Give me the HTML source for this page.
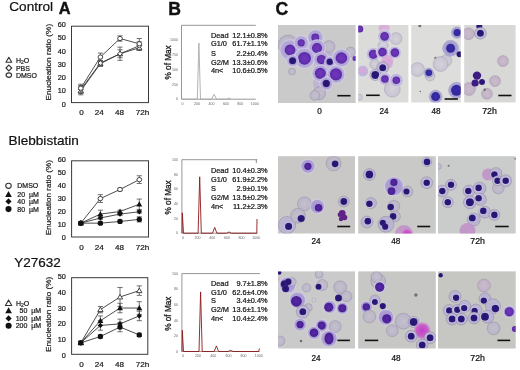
<!DOCTYPE html>
<html><head><meta charset="utf-8"><style>html,body{margin:0;padding:0;background:#fff;width:520px;height:370px;overflow:hidden}svg{display:block;will-change:transform}</style></head>
<body><svg width="520" height="370" viewBox="0 0 520 370" font-family="'Liberation Sans', sans-serif">
<defs>
<radialGradient id="gcy"><stop offset="0" stop-color="#a492d0"/><stop offset=".8" stop-color="#ad9ed4"/><stop offset="1" stop-color="#bab0da"/></radialGradient>
<radialGradient id="gcd"><stop offset="0" stop-color="#b4acd0"/><stop offset=".85" stop-color="#bcb6d2"/><stop offset="1" stop-color="#b0aac4"/></radialGradient>
<radialGradient id="gnv"><stop offset="0" stop-color="#7038bc"/><stop offset=".7" stop-color="#6430b0"/><stop offset="1" stop-color="#5628a0"/></radialGradient>
<radialGradient id="gnV"><stop offset="0" stop-color="#5828a8"/><stop offset=".7" stop-color="#4c2298"/><stop offset="1" stop-color="#42208a"/></radialGradient>
<radialGradient id="gcy0"><stop offset="0" stop-color="#ab9dd4"/><stop offset=".8" stop-color="#b3a7d8"/><stop offset="1" stop-color="#beb6dc"/></radialGradient>
<radialGradient id="gcy1"><stop offset="0" stop-color="#b8aed8"/><stop offset=".8" stop-color="#c0b8da"/><stop offset="1" stop-color="#ccc6de"/></radialGradient>
<radialGradient id="gnb"><stop offset="0" stop-color="#3a2eac"/><stop offset=".75" stop-color="#33289c"/><stop offset="1" stop-color="#3a3094"/></radialGradient>
<radialGradient id="gcb"><stop offset="0" stop-color="#9c96d0"/><stop offset=".8" stop-color="#a6a2d4"/><stop offset="1" stop-color="#b6b2d8"/></radialGradient>
<radialGradient id="gpl"><stop offset="0" stop-color="#d4d2da"/><stop offset=".85" stop-color="#cac6d4"/><stop offset="1" stop-color="#bcb8c8"/></radialGradient>
<radialGradient id="gnd"><stop offset="0" stop-color="#26146c"/><stop offset=".8" stop-color="#2c1878"/><stop offset="1" stop-color="#3a2888"/></radialGradient>
<radialGradient id="gpa"><stop offset="0" stop-color="#c4c0cc"/><stop offset=".85" stop-color="#bcb6c8"/><stop offset="1" stop-color="#aaa4bc"/></radialGradient>
<radialGradient id="gpk"><stop offset="0" stop-color="#cabccc"/><stop offset=".85" stop-color="#c2b2c6"/><stop offset="1" stop-color="#ae9eb8"/></radialGradient>
<radialGradient id="gmg"><stop offset="0" stop-color="#c040c8"/><stop offset=".7" stop-color="#c860c8"/><stop offset="1" stop-color="#d090d0" stop-opacity=".6"/></radialGradient>
<filter id="bl" x="-5%" y="-5%" width="110%" height="110%"><feGaussianBlur stdDeviation=".45"/></filter>
</defs>
<rect width="520" height="370" fill="#fff"/>
<text x="9.3" y="11.3" font-size="13.6" text-anchor="start" font-weight="normal" fill="#111" stroke="#111" stroke-width="0.22" >Control</text>
<text x="58.7" y="14.2" font-size="16.4" text-anchor="start" font-weight="bold" fill="#111" stroke="#111" stroke-width="0.4" >A</text>
<text x="8.6" y="145.4" font-size="13.6" text-anchor="start" font-weight="normal" fill="#111" stroke="#111" stroke-width="0.22" >Blebbistatin</text>
<text x="14.2" y="266.5" font-size="13.5" text-anchor="start" font-weight="normal" fill="#111" stroke="#111" stroke-width="0.22" >Y27632</text>
<text x="168.2" y="15.1" font-size="17.6" text-anchor="start" font-weight="bold" fill="#111" stroke="#111" stroke-width="0.4" >B</text>
<text x="275.6" y="15.1" font-size="17.6" text-anchor="start" font-weight="bold" fill="#111" stroke="#111" stroke-width="0.4" >C</text>
<rect x="71.5" y="26.2" width="77.0" height="76.39999999999999" fill="none" stroke="#3a3a3a" stroke-width="1"/>
<text x="65.9" y="106.6" font-size="7.3" text-anchor="end" font-weight="normal" fill="#1a1a1a" stroke="#1a1a1a" stroke-width="0.22" >0</text>
<text x="65.9" y="93.35" font-size="7.3" text-anchor="end" font-weight="normal" fill="#1a1a1a" stroke="#1a1a1a" stroke-width="0.22" >10</text>
<text x="65.9" y="80.1" font-size="7.3" text-anchor="end" font-weight="normal" fill="#1a1a1a" stroke="#1a1a1a" stroke-width="0.22" >20</text>
<text x="65.9" y="66.85" font-size="7.3" text-anchor="end" font-weight="normal" fill="#1a1a1a" stroke="#1a1a1a" stroke-width="0.22" >30</text>
<text x="65.9" y="53.6" font-size="7.3" text-anchor="end" font-weight="normal" fill="#1a1a1a" stroke="#1a1a1a" stroke-width="0.22" >40</text>
<text x="65.9" y="40.35" font-size="7.3" text-anchor="end" font-weight="normal" fill="#1a1a1a" stroke="#1a1a1a" stroke-width="0.22" >50</text>
<text x="65.9" y="27.1" font-size="7.3" text-anchor="end" font-weight="normal" fill="#1a1a1a" stroke="#1a1a1a" stroke-width="0.22" >60</text>
<text x="81.6" y="115.4" font-size="8.1" text-anchor="middle" font-weight="normal" fill="#1a1a1a" stroke="#1a1a1a" stroke-width="0.22" >0</text>
<text x="99.2" y="115.4" font-size="8.1" text-anchor="middle" font-weight="normal" fill="#1a1a1a" stroke="#1a1a1a" stroke-width="0.22" >24</text>
<text x="119.4" y="115.4" font-size="8.1" text-anchor="middle" font-weight="normal" fill="#1a1a1a" stroke="#1a1a1a" stroke-width="0.22" >48</text>
<text x="142.5" y="115.4" font-size="8.1" text-anchor="middle" font-weight="normal" fill="#1a1a1a" stroke="#1a1a1a" stroke-width="0.22" >72h</text>
<text x="0" y="0" font-size="7.7" text-anchor="middle" textLength="76.7" lengthAdjust="spacingAndGlyphs" fill="#1a1a1a" stroke="#1a1a1a" stroke-width="0.2" transform="translate(50.9,62.15) rotate(-90)">Enucleation ratio (%)</text>
<polyline points="80.8,90.85 100.4,63.69 120,53.75 139.3,47.79" fill="none" stroke="#3a3a3a" stroke-width="0.9"/>
<polyline points="80.8,89.52 100.4,63.02 120,53.75 139.3,45.80" fill="none" stroke="#3a3a3a" stroke-width="0.9"/>
<polyline points="80.8,88.20 100.4,57.06 120,38.51 139.3,43.81" fill="none" stroke="#3a3a3a" stroke-width="0.9"/>
<path d="M80.8,86.88V94.82M78.2,86.88h5.2M78.2,94.82h5.2" stroke="#444" stroke-width="0.75" fill="none"/>
<path d="M100.4,61.04V66.34M97.80000000000001,61.04h5.2M97.80000000000001,66.34h5.2" stroke="#444" stroke-width="0.75" fill="none"/>
<path d="M120,49.77V57.72M117.4,49.77h5.2M117.4,57.72h5.2" stroke="#444" stroke-width="0.75" fill="none"/>
<path d="M139.3,45.14V50.44M136.70000000000002,45.14h5.2M136.70000000000002,50.44h5.2" stroke="#444" stroke-width="0.75" fill="none"/>
<path d="M80.8,85.55V93.50M78.2,85.55h5.2M78.2,93.50h5.2" stroke="#444" stroke-width="0.75" fill="none"/>
<path d="M100.4,60.37V65.67M97.80000000000001,60.37h5.2M97.80000000000001,65.67h5.2" stroke="#444" stroke-width="0.75" fill="none"/>
<path d="M120,47.12V60.37M117.4,47.12h5.2M117.4,60.37h5.2" stroke="#444" stroke-width="0.75" fill="none"/>
<path d="M139.3,41.82V49.77M136.70000000000002,41.82h5.2M136.70000000000002,49.77h5.2" stroke="#444" stroke-width="0.75" fill="none"/>
<path d="M80.8,84.22V92.17M78.2,84.22h5.2M78.2,92.17h5.2" stroke="#444" stroke-width="0.75" fill="none"/>
<path d="M100.4,53.09V61.04M97.80000000000001,53.09h5.2M97.80000000000001,61.04h5.2" stroke="#444" stroke-width="0.75" fill="none"/>
<path d="M120,35.86V41.16M117.4,35.86h5.2M117.4,41.16h5.2" stroke="#444" stroke-width="0.75" fill="none"/>
<path d="M139.3,38.51V49.11M136.70000000000002,38.51h5.2M136.70000000000002,49.11h5.2" stroke="#444" stroke-width="0.75" fill="none"/>
<path d="M80.8,88.30L83.45,92.85H78.15Z" fill="#fff" stroke="#333" stroke-width="0.9" stroke-linejoin="round"/>
<path d="M100.4,61.14L103.05,65.68H97.75Z" fill="#fff" stroke="#333" stroke-width="0.9" stroke-linejoin="round"/>
<path d="M120,51.20L122.65,55.75H117.35Z" fill="#fff" stroke="#333" stroke-width="0.9" stroke-linejoin="round"/>
<path d="M139.3,45.24L141.95,49.78H136.65Z" fill="#fff" stroke="#333" stroke-width="0.9" stroke-linejoin="round"/>
<path d="M80.8,87.17L83.14999999999999,89.52L80.8,91.87L78.45,89.52Z" fill="#fff" stroke="#333" stroke-width="0.9"/>
<path d="M100.4,60.67L102.75,63.02L100.4,65.37L98.05000000000001,63.02Z" fill="#fff" stroke="#333" stroke-width="0.9"/>
<path d="M120,51.40L122.35,53.75L120,56.10L117.65,53.75Z" fill="#fff" stroke="#333" stroke-width="0.9"/>
<path d="M139.3,43.45L141.65,45.80L139.3,48.15L136.95000000000002,45.80Z" fill="#fff" stroke="#333" stroke-width="0.9"/>
<ellipse cx="80.8" cy="88.20" rx="2.35" ry="2.16" fill="#fff" stroke="#333" stroke-width="0.9"/>
<ellipse cx="100.4" cy="57.06" rx="2.35" ry="2.16" fill="#fff" stroke="#333" stroke-width="0.9"/>
<ellipse cx="120" cy="38.51" rx="2.35" ry="2.16" fill="#fff" stroke="#333" stroke-width="0.9"/>
<ellipse cx="139.3" cy="43.81" rx="2.35" ry="2.16" fill="#fff" stroke="#333" stroke-width="0.9"/>
<rect x="71.6" y="160.8" width="76.9" height="76.19999999999999" fill="none" stroke="#3a3a3a" stroke-width="1"/>
<text x="65.9" y="239.9" font-size="7.3" text-anchor="end" font-weight="normal" fill="#1a1a1a" stroke="#1a1a1a" stroke-width="0.22" >0</text>
<text x="65.9" y="226.95" font-size="7.3" text-anchor="end" font-weight="normal" fill="#1a1a1a" stroke="#1a1a1a" stroke-width="0.22" >10</text>
<text x="65.9" y="214.0" font-size="7.3" text-anchor="end" font-weight="normal" fill="#1a1a1a" stroke="#1a1a1a" stroke-width="0.22" >20</text>
<text x="65.9" y="201.05" font-size="7.3" text-anchor="end" font-weight="normal" fill="#1a1a1a" stroke="#1a1a1a" stroke-width="0.22" >30</text>
<text x="65.9" y="188.1" font-size="7.3" text-anchor="end" font-weight="normal" fill="#1a1a1a" stroke="#1a1a1a" stroke-width="0.22" >40</text>
<text x="65.9" y="175.15" font-size="7.3" text-anchor="end" font-weight="normal" fill="#1a1a1a" stroke="#1a1a1a" stroke-width="0.22" >50</text>
<text x="65.9" y="162.2" font-size="7.3" text-anchor="end" font-weight="normal" fill="#1a1a1a" stroke="#1a1a1a" stroke-width="0.22" >60</text>
<text x="81.6" y="250.4" font-size="8.1" text-anchor="middle" font-weight="normal" fill="#1a1a1a" stroke="#1a1a1a" stroke-width="0.22" >0</text>
<text x="99.2" y="250.4" font-size="8.1" text-anchor="middle" font-weight="normal" fill="#1a1a1a" stroke="#1a1a1a" stroke-width="0.22" >24</text>
<text x="119.4" y="250.4" font-size="8.1" text-anchor="middle" font-weight="normal" fill="#1a1a1a" stroke="#1a1a1a" stroke-width="0.22" >48</text>
<text x="142.5" y="250.4" font-size="8.1" text-anchor="middle" font-weight="normal" fill="#1a1a1a" stroke="#1a1a1a" stroke-width="0.22" >72h</text>
<text x="0" y="0" font-size="7.7" text-anchor="middle" textLength="75.1" lengthAdjust="spacingAndGlyphs" fill="#1a1a1a" stroke="#1a1a1a" stroke-width="0.2" transform="translate(50.9,197.7) rotate(-90)">Enucleation ratio (%)</text>
<polyline points="80.8,223.16 100.4,198.55 120,189.49 139.3,179.64" fill="none" stroke="#3a3a3a" stroke-width="0.9"/>
<polyline points="80.8,223.16 100.4,214.09 120,211.50 139.3,204.25" fill="none" stroke="#3a3a3a" stroke-width="0.9"/>
<polyline points="80.8,223.16 100.4,217.97 120,214.09 139.3,211.76" fill="none" stroke="#3a3a3a" stroke-width="0.9"/>
<polyline points="80.8,223.16 100.4,223.16 120,221.47 139.3,219.40" fill="none" stroke="#3a3a3a" stroke-width="0.9"/>
<path d="M80.8,221.86V224.45M78.2,221.86h5.2M78.2,224.45h5.2" stroke="#444" stroke-width="0.75" fill="none"/>
<path d="M100.4,194.66V202.44M97.80000000000001,194.66h5.2M97.80000000000001,202.44h5.2" stroke="#444" stroke-width="0.75" fill="none"/>
<path d="M120,188.19V190.78M117.4,188.19h5.2M117.4,190.78h5.2" stroke="#444" stroke-width="0.75" fill="none"/>
<path d="M139.3,175.76V183.53M136.70000000000002,175.76h5.2M136.70000000000002,183.53h5.2" stroke="#444" stroke-width="0.75" fill="none"/>
<path d="M80.8,221.86V224.45M78.2,221.86h5.2M78.2,224.45h5.2" stroke="#444" stroke-width="0.75" fill="none"/>
<path d="M100.4,210.21V217.97M97.80000000000001,210.21h5.2M97.80000000000001,217.97h5.2" stroke="#444" stroke-width="0.75" fill="none"/>
<path d="M120,210.21V212.79M117.4,210.21h5.2M117.4,212.79h5.2" stroke="#444" stroke-width="0.75" fill="none"/>
<path d="M139.3,199.07V209.43M136.70000000000002,199.07h5.2M136.70000000000002,209.43h5.2" stroke="#444" stroke-width="0.75" fill="none"/>
<path d="M80.8,221.86V224.45M78.2,221.86h5.2M78.2,224.45h5.2" stroke="#444" stroke-width="0.75" fill="none"/>
<path d="M100.4,216.68V219.27M97.80000000000001,216.68h5.2M97.80000000000001,219.27h5.2" stroke="#444" stroke-width="0.75" fill="none"/>
<path d="M120,212.79V215.38M117.4,212.79h5.2M117.4,215.38h5.2" stroke="#444" stroke-width="0.75" fill="none"/>
<path d="M139.3,210.46V213.05M136.70000000000002,210.46h5.2M136.70000000000002,213.05h5.2" stroke="#444" stroke-width="0.75" fill="none"/>
<path d="M80.8,221.86V224.45M78.2,221.86h5.2M78.2,224.45h5.2" stroke="#444" stroke-width="0.75" fill="none"/>
<path d="M100.4,221.86V224.45M97.80000000000001,221.86h5.2M97.80000000000001,224.45h5.2" stroke="#444" stroke-width="0.75" fill="none"/>
<path d="M120,220.18V222.77M117.4,220.18h5.2M117.4,222.77h5.2" stroke="#444" stroke-width="0.75" fill="none"/>
<path d="M139.3,216.81V221.99M136.70000000000002,216.81h5.2M136.70000000000002,221.99h5.2" stroke="#444" stroke-width="0.75" fill="none"/>
<ellipse cx="80.8" cy="223.16" rx="2.35" ry="2.16" fill="#fff" stroke="#333" stroke-width="0.9"/>
<ellipse cx="100.4" cy="198.55" rx="2.35" ry="2.16" fill="#fff" stroke="#333" stroke-width="0.9"/>
<ellipse cx="120" cy="189.49" rx="2.35" ry="2.16" fill="#fff" stroke="#333" stroke-width="0.9"/>
<ellipse cx="139.3" cy="179.64" rx="2.35" ry="2.16" fill="#fff" stroke="#333" stroke-width="0.9"/>
<path d="M80.8,220.21L83.75,225.39H77.85Z" fill="#111"/>
<path d="M100.4,211.14L103.35,216.32H97.45Z" fill="#111"/>
<path d="M120,208.55L122.95,213.73H117.05Z" fill="#111"/>
<path d="M139.3,201.30L142.25,206.48H136.35Z" fill="#111"/>
<path d="M80.8,220.50L83.44999999999999,223.16L80.8,225.81L78.15,223.16Z" fill="#111"/>
<path d="M100.4,215.32L103.05,217.97L100.4,220.62L97.75000000000001,217.97Z" fill="#111"/>
<path d="M120,211.44L122.64999999999999,214.09L120,216.74L117.35000000000001,214.09Z" fill="#111"/>
<path d="M139.3,209.11L141.95000000000002,211.76L139.3,214.41L136.65,211.76Z" fill="#111"/>
<circle cx="80.8" cy="223.16" r="2.65" fill="#111"/>
<circle cx="100.4" cy="223.16" r="2.65" fill="#111"/>
<circle cx="120" cy="221.47" r="2.65" fill="#111"/>
<circle cx="139.3" cy="219.40" r="2.65" fill="#111"/>
<rect x="71.6" y="277.7" width="76.20000000000002" height="76.60000000000002" fill="none" stroke="#3a3a3a" stroke-width="1"/>
<text x="65.9" y="358.0" font-size="7.3" text-anchor="end" font-weight="normal" fill="#1a1a1a" stroke="#1a1a1a" stroke-width="0.22" >0</text>
<text x="65.9" y="342.18" font-size="7.3" text-anchor="end" font-weight="normal" fill="#1a1a1a" stroke="#1a1a1a" stroke-width="0.22" >10</text>
<text x="65.9" y="326.36" font-size="7.3" text-anchor="end" font-weight="normal" fill="#1a1a1a" stroke="#1a1a1a" stroke-width="0.22" >20</text>
<text x="65.9" y="310.54" font-size="7.3" text-anchor="end" font-weight="normal" fill="#1a1a1a" stroke="#1a1a1a" stroke-width="0.22" >30</text>
<text x="65.9" y="294.72" font-size="7.3" text-anchor="end" font-weight="normal" fill="#1a1a1a" stroke="#1a1a1a" stroke-width="0.22" >40</text>
<text x="65.9" y="278.9" font-size="7.3" text-anchor="end" font-weight="normal" fill="#1a1a1a" stroke="#1a1a1a" stroke-width="0.22" >50</text>
<text x="81.6" y="366.8" font-size="8.1" text-anchor="middle" font-weight="normal" fill="#1a1a1a" stroke="#1a1a1a" stroke-width="0.22" >0</text>
<text x="99.2" y="366.8" font-size="8.1" text-anchor="middle" font-weight="normal" fill="#1a1a1a" stroke="#1a1a1a" stroke-width="0.22" >24</text>
<text x="119.4" y="366.8" font-size="8.1" text-anchor="middle" font-weight="normal" fill="#1a1a1a" stroke="#1a1a1a" stroke-width="0.22" >48</text>
<text x="142.5" y="366.8" font-size="8.1" text-anchor="middle" font-weight="normal" fill="#1a1a1a" stroke="#1a1a1a" stroke-width="0.22" >72h</text>
<text x="0" y="0" font-size="7.7" text-anchor="middle" textLength="75" lengthAdjust="spacingAndGlyphs" fill="#1a1a1a" stroke="#1a1a1a" stroke-width="0.2" transform="translate(50.9,314.4) rotate(-90)">Enucleation ratio (%)</text>
<polyline points="80.8,342.84 100.4,309.62 120,296.97 139.3,290.64" fill="none" stroke="#3a3a3a" stroke-width="0.9"/>
<polyline points="80.8,342.84 100.4,320.70 120,308.04 139.3,308.04" fill="none" stroke="#3a3a3a" stroke-width="0.9"/>
<polyline points="80.8,342.84 100.4,325.44 120,323.86 139.3,315.95" fill="none" stroke="#3a3a3a" stroke-width="0.9"/>
<polyline points="80.8,342.84 100.4,336.52 120,327.02 139.3,334.93" fill="none" stroke="#3a3a3a" stroke-width="0.9"/>
<path d="M80.8,341.26V344.43M78.2,341.26h5.2M78.2,344.43h5.2" stroke="#444" stroke-width="0.75" fill="none"/>
<path d="M100.4,306.46V312.79M97.80000000000001,306.46h5.2M97.80000000000001,312.79h5.2" stroke="#444" stroke-width="0.75" fill="none"/>
<path d="M120,287.47V306.46M117.4,287.47h5.2M117.4,306.46h5.2" stroke="#444" stroke-width="0.75" fill="none"/>
<path d="M139.3,285.89V295.38M136.70000000000002,285.89h5.2M136.70000000000002,295.38h5.2" stroke="#444" stroke-width="0.75" fill="none"/>
<path d="M80.8,341.26V344.43M78.2,341.26h5.2M78.2,344.43h5.2" stroke="#444" stroke-width="0.75" fill="none"/>
<path d="M100.4,315.95V325.44M97.80000000000001,315.95h5.2M97.80000000000001,325.44h5.2" stroke="#444" stroke-width="0.75" fill="none"/>
<path d="M120,303.29V312.79M117.4,303.29h5.2M117.4,312.79h5.2" stroke="#444" stroke-width="0.75" fill="none"/>
<path d="M139.3,301.71V314.37M136.70000000000002,301.71h5.2M136.70000000000002,314.37h5.2" stroke="#444" stroke-width="0.75" fill="none"/>
<path d="M80.8,341.26V344.43M78.2,341.26h5.2M78.2,344.43h5.2" stroke="#444" stroke-width="0.75" fill="none"/>
<path d="M100.4,320.70V330.19M97.80000000000001,320.70h5.2M97.80000000000001,330.19h5.2" stroke="#444" stroke-width="0.75" fill="none"/>
<path d="M120,319.11V328.61M117.4,319.11h5.2M117.4,328.61h5.2" stroke="#444" stroke-width="0.75" fill="none"/>
<path d="M139.3,311.20V320.70M136.70000000000002,311.20h5.2M136.70000000000002,320.70h5.2" stroke="#444" stroke-width="0.75" fill="none"/>
<path d="M80.8,341.26V344.43M78.2,341.26h5.2M78.2,344.43h5.2" stroke="#444" stroke-width="0.75" fill="none"/>
<path d="M100.4,334.93V338.10M97.80000000000001,334.93h5.2M97.80000000000001,338.10h5.2" stroke="#444" stroke-width="0.75" fill="none"/>
<path d="M120,322.28V331.77M117.4,322.28h5.2M117.4,331.77h5.2" stroke="#444" stroke-width="0.75" fill="none"/>
<path d="M139.3,333.35V336.52M136.70000000000002,333.35h5.2M136.70000000000002,336.52h5.2" stroke="#444" stroke-width="0.75" fill="none"/>
<path d="M80.8,340.29L83.45,344.84H78.15Z" fill="#fff" stroke="#333" stroke-width="0.9" stroke-linejoin="round"/>
<path d="M100.4,307.07L103.05,311.62H97.75Z" fill="#fff" stroke="#333" stroke-width="0.9" stroke-linejoin="round"/>
<path d="M120,294.42L122.65,298.96H117.35Z" fill="#fff" stroke="#333" stroke-width="0.9" stroke-linejoin="round"/>
<path d="M139.3,288.09L141.95,292.64H136.65Z" fill="#fff" stroke="#333" stroke-width="0.9" stroke-linejoin="round"/>
<path d="M80.8,339.89L83.75,345.08H77.85Z" fill="#111"/>
<path d="M100.4,317.75L103.35,322.93H97.45Z" fill="#111"/>
<path d="M120,305.09L122.95,310.27H117.05Z" fill="#111"/>
<path d="M139.3,305.09L142.25,310.27H136.35Z" fill="#111"/>
<path d="M80.8,340.19L83.44999999999999,342.84L80.8,345.49L78.15,342.84Z" fill="#111"/>
<path d="M100.4,322.79L103.05,325.44L100.4,328.09L97.75000000000001,325.44Z" fill="#111"/>
<path d="M120,321.21L122.64999999999999,323.86L120,326.51L117.35000000000001,323.86Z" fill="#111"/>
<path d="M139.3,313.30L141.95000000000002,315.95L139.3,318.60L136.65,315.95Z" fill="#111"/>
<circle cx="80.8" cy="342.84" r="2.65" fill="#111"/>
<circle cx="100.4" cy="336.52" r="2.65" fill="#111"/>
<circle cx="120" cy="327.02" r="2.65" fill="#111"/>
<circle cx="139.3" cy="334.93" r="2.65" fill="#111"/>
<path d="M8.85,57.30L11.75,62.31H5.95Z" fill="#fff" stroke="#333" stroke-width="1.1" stroke-linejoin="round"/>
<path d="M8.85,65.10L11.75,68.00L8.85,70.90L5.949999999999999,68.00Z" fill="#fff" stroke="#333" stroke-width="1.1"/>
<ellipse cx="8.85" cy="75.1" rx="2.75" ry="2.25" fill="#fff" stroke="#333" stroke-width="1.15"/>
<text x="15.9" y="62.6" font-size="7" text-anchor="start" font-weight="normal" fill="#1a1a1a" stroke="#1a1a1a" stroke-width="0.22" >H<tspan font-size="5" dy="1.5">2</tspan><tspan dy="-1.5">O</tspan></text>
<text x="15.9" y="70.5" font-size="7" text-anchor="start" font-weight="normal" fill="#1a1a1a" stroke="#1a1a1a" stroke-width="0.22" >PBS</text>
<text x="15.9" y="77.7" font-size="7" text-anchor="start" font-weight="normal" fill="#1a1a1a" stroke="#1a1a1a" stroke-width="0.22" >DMSO</text>
<ellipse cx="8.5" cy="185.80" rx="2.75" ry="2.53" fill="#fff" stroke="#333" stroke-width="1.1"/>
<text x="17.3" y="188.3" font-size="7" text-anchor="start" font-weight="normal" fill="#1a1a1a" stroke="#1a1a1a" stroke-width="0.22" >DMSO</text>
<path d="M8.5,190.95L11.85,196.91H5.15Z" fill="#111"/>
<text x="17.3" y="196.8" font-size="7" text-anchor="start" font-weight="normal" fill="#1a1a1a" stroke="#1a1a1a" stroke-width="0.22" >20&#160; µM</text>
<path d="M8.5,198.35L11.55,201.40L8.5,204.45L5.45,201.40Z" fill="#111"/>
<text x="17.3" y="203.9" font-size="7" text-anchor="start" font-weight="normal" fill="#1a1a1a" stroke="#1a1a1a" stroke-width="0.22" >40&#160; µM</text>
<circle cx="8.5" cy="209.10" r="3.05" fill="#111"/>
<text x="17.3" y="211.6" font-size="7" text-anchor="start" font-weight="normal" fill="#1a1a1a" stroke="#1a1a1a" stroke-width="0.22" >80&#160; µM</text>
<path d="M8.6,299.90L11.80,305.46H5.40Z" fill="#fff" stroke="#333" stroke-width="1.1" stroke-linejoin="round"/>
<text x="16" y="305.5" font-size="7" text-anchor="start" font-weight="normal" fill="#1a1a1a" stroke="#1a1a1a" stroke-width="0.22" >H<tspan font-size="5" dy="1.5">2</tspan><tspan dy="-1.5">O</tspan></text>
<text x="41.1" y="313.1" font-size="7" text-anchor="end" font-weight="normal" fill="#1a1a1a" stroke="#1a1a1a" stroke-width="0.22" >50&#160; µM</text>
<text x="41.1" y="320.9" font-size="7" text-anchor="end" font-weight="normal" fill="#1a1a1a" stroke="#1a1a1a" stroke-width="0.22" >100&#160; µM</text>
<text x="41.1" y="328.2" font-size="7" text-anchor="end" font-weight="normal" fill="#1a1a1a" stroke="#1a1a1a" stroke-width="0.22" >200&#160; µM</text>
<path d="M8.6,307.25L11.95,313.21H5.25Z" fill="#111"/>
<path d="M8.6,315.35L11.65,318.40L8.6,321.45L5.55,318.40Z" fill="#111"/>
<circle cx="8.6" cy="325.70" r="3.05" fill="#111"/>
<path d="M181.5,99.2V25.3H255.8M181.5,99.2H255.8" fill="none" stroke="#6a6a6a" stroke-width="0.7"/>
<text x="0" y="0" font-size="8.6" text-anchor="middle" textLength="34.2" lengthAdjust="spacingAndGlyphs" fill="#1a1a1a" stroke="#1a1a1a" stroke-width="0.3" transform="translate(170.9,62.4) rotate(-90)">% of Max</text>
<path d="M181.5,99.2 L197.3,99.2 L198.9,43.1 L200.5,99.2 L211.5,99.2 L214,94.2 L216.5,99.2 L227,99.2 L229,98 L231,99.2" fill="none" stroke="#aaa" stroke-width="0.9" stroke-linejoin="round"/>
<text x="178" y="100.4" font-size="3.6" text-anchor="end" font-weight="normal" fill="#666" >0</text>
<text x="178" y="85.5" font-size="3.6" text-anchor="end" font-weight="normal" fill="#666" >250</text>
<text x="178" y="70.6" font-size="3.6" text-anchor="end" font-weight="normal" fill="#666" >500</text>
<text x="178" y="55.7" font-size="3.6" text-anchor="end" font-weight="normal" fill="#666" >750</text>
<text x="178" y="40.8" font-size="3.6" text-anchor="end" font-weight="normal" fill="#666" >1000</text>
<text x="182.5" y="104.7" font-size="3.6" text-anchor="middle" font-weight="normal" fill="#666" >0</text>
<text x="196.96" y="104.7" font-size="3.6" text-anchor="middle" font-weight="normal" fill="#666" >200</text>
<text x="211.42" y="104.7" font-size="3.6" text-anchor="middle" font-weight="normal" fill="#666" >400</text>
<text x="225.88" y="104.7" font-size="3.6" text-anchor="middle" font-weight="normal" fill="#666" >600</text>
<text x="240.34" y="104.7" font-size="3.6" text-anchor="middle" font-weight="normal" fill="#666" >800</text>
<text x="254.8" y="104.7" font-size="3.6" text-anchor="middle" font-weight="normal" fill="#666" >1000</text>
<rect x="208" y="29.6" width="60" height="46.300000000000004" fill="#fff"/>
<text transform="translate(210.9,37.6) scale(0.925,1)" font-size="8.0" text-anchor="start" font-weight="normal" fill="#111" stroke="#111" stroke-width="0.22" >Dead</text>
<text transform="translate(267.6,37.6) scale(0.925,1)" font-size="8.0" text-anchor="end" font-weight="normal" fill="#111" stroke="#111" stroke-width="0.22" >12.1±0.8%</text>
<text transform="translate(210.9,46.3) scale(0.925,1)" font-size="8.0" text-anchor="start" font-weight="normal" fill="#111" stroke="#111" stroke-width="0.22" >G1/0</text>
<text transform="translate(267.6,46.3) scale(0.925,1)" font-size="8.0" text-anchor="end" font-weight="normal" fill="#111" stroke="#111" stroke-width="0.22" >61.7±1.1%</text>
<text transform="translate(210.9,55.8) scale(0.925,1)" font-size="8.0" text-anchor="start" font-weight="normal" fill="#111" stroke="#111" stroke-width="0.22" >S</text>
<text transform="translate(267.6,55.8) scale(0.925,1)" font-size="8.0" text-anchor="end" font-weight="normal" fill="#111" stroke="#111" stroke-width="0.22" >2.2±0.4%</text>
<text transform="translate(210.9,64.6) scale(0.925,1)" font-size="8.0" text-anchor="start" font-weight="normal" fill="#111" stroke="#111" stroke-width="0.22" >G2/M</text>
<text transform="translate(267.6,64.6) scale(0.925,1)" font-size="8.0" text-anchor="end" font-weight="normal" fill="#111" stroke="#111" stroke-width="0.22" >13.3±0.6%</text>
<text transform="translate(210.9,73.4) scale(0.925,1)" font-size="8.0" text-anchor="start" font-weight="normal" fill="#111" stroke="#111" stroke-width="0.22" >4n&lt;</text>
<text transform="translate(267.6,73.4) scale(0.925,1)" font-size="8.0" text-anchor="end" font-weight="normal" fill="#111" stroke="#111" stroke-width="0.22" >10.6±0.5%</text>
<path d="M181.9,233.2V159.7H257.3M181.9,233.2H257.3" fill="none" stroke="#6a6a6a" stroke-width="0.7"/>
<text x="0" y="0" font-size="8.6" text-anchor="middle" textLength="34.2" lengthAdjust="spacingAndGlyphs" fill="#1a1a1a" stroke="#1a1a1a" stroke-width="0.3" transform="translate(170.9,197.4) rotate(-90)">% of Max</text>
<path d="M182,233.2 L182.3,212.8 L183.5,233.2 M183.5,233.2 L198.1,233.2 L199.7,176.8 L201.29999999999998,233.2 L212.5,233.2 L214.7,227.4 L216.89999999999998,233.2 L226.5,233.2 L229,232 L231.5,233.2 L256.8,233.2 L257,219" fill="none" stroke="#8b1a1a" stroke-width="0.9" stroke-linejoin="round"/>
<path d="M256.3,159.7V163" stroke="#555" stroke-width="0.7"/>
<text x="178" y="234.4" font-size="3.6" text-anchor="end" font-weight="normal" fill="#666" >0</text>
<text x="178" y="219.7" font-size="3.6" text-anchor="end" font-weight="normal" fill="#666" >20</text>
<text x="178" y="205.0" font-size="3.6" text-anchor="end" font-weight="normal" fill="#666" >40</text>
<text x="178" y="190.3" font-size="3.6" text-anchor="end" font-weight="normal" fill="#666" >60</text>
<text x="178" y="175.6" font-size="3.6" text-anchor="end" font-weight="normal" fill="#666" >80</text>
<text x="178" y="160.9" font-size="3.6" text-anchor="end" font-weight="normal" fill="#666" >100</text>
<text x="182.9" y="238.7" font-size="3.6" text-anchor="middle" font-weight="normal" fill="#666" >0</text>
<text x="197.58" y="238.7" font-size="3.6" text-anchor="middle" font-weight="normal" fill="#666" >200</text>
<text x="212.26" y="238.7" font-size="3.6" text-anchor="middle" font-weight="normal" fill="#666" >400</text>
<text x="226.94" y="238.7" font-size="3.6" text-anchor="middle" font-weight="normal" fill="#666" >600</text>
<text x="241.62" y="238.7" font-size="3.6" text-anchor="middle" font-weight="normal" fill="#666" >800</text>
<text x="256.3" y="238.7" font-size="3.6" text-anchor="middle" font-weight="normal" fill="#666" >1000</text>
<rect x="208" y="165.4" width="60" height="46.400000000000006" fill="#fff"/>
<text transform="translate(210.9,173.4) scale(0.925,1)" font-size="8.0" text-anchor="start" font-weight="normal" fill="#111" stroke="#111" stroke-width="0.22" >Dead</text>
<text transform="translate(267.6,173.4) scale(0.925,1)" font-size="8.0" text-anchor="end" font-weight="normal" fill="#111" stroke="#111" stroke-width="0.22" >10.4±0.3%</text>
<text transform="translate(210.9,182.3) scale(0.925,1)" font-size="8.0" text-anchor="start" font-weight="normal" fill="#111" stroke="#111" stroke-width="0.22" >G1/0</text>
<text transform="translate(267.6,182.3) scale(0.925,1)" font-size="8.0" text-anchor="end" font-weight="normal" fill="#111" stroke="#111" stroke-width="0.22" >61.9±2.2%</text>
<text transform="translate(210.9,191.4) scale(0.925,1)" font-size="8.0" text-anchor="start" font-weight="normal" fill="#111" stroke="#111" stroke-width="0.22" >S</text>
<text transform="translate(267.6,191.4) scale(0.925,1)" font-size="8.0" text-anchor="end" font-weight="normal" fill="#111" stroke="#111" stroke-width="0.22" >2.9±0.1%</text>
<text transform="translate(210.9,200.4) scale(0.925,1)" font-size="8.0" text-anchor="start" font-weight="normal" fill="#111" stroke="#111" stroke-width="0.22" >G2/M</text>
<text transform="translate(267.6,200.4) scale(0.925,1)" font-size="8.0" text-anchor="end" font-weight="normal" fill="#111" stroke="#111" stroke-width="0.22" >13.5±0.2%</text>
<text transform="translate(210.9,209.3) scale(0.925,1)" font-size="8.0" text-anchor="start" font-weight="normal" fill="#111" stroke="#111" stroke-width="0.22" >4n&lt;</text>
<text transform="translate(267.6,209.3) scale(0.925,1)" font-size="8.0" text-anchor="end" font-weight="normal" fill="#111" stroke="#111" stroke-width="0.22" >11.2±2.3%</text>
<path d="M181.9,351.5V273.6H260M181.9,351.5H259.8" fill="none" stroke="#6a6a6a" stroke-width="0.7"/>
<text x="0" y="0" font-size="8.6" text-anchor="middle" textLength="34.2" lengthAdjust="spacingAndGlyphs" fill="#1a1a1a" stroke="#1a1a1a" stroke-width="0.3" transform="translate(170.9,313.7) rotate(-90)">% of Max</text>
<path d="M182,351.5 L182.3,330.3 L183.5,351.5 M183.5,351.5 L199.0,351.5 L200.6,291.9 L202.2,351.5 L214.20000000000002,351.5 L216.4,345.9 L218.6,351.5 L228.1,351.5 L230.6,350.3 L233.1,351.5 L258.5,351.5 L259.6,348.5" fill="none" stroke="#8b1a1a" stroke-width="0.9" stroke-linejoin="round"/>
<text x="178" y="352.7" font-size="3.6" text-anchor="end" font-weight="normal" fill="#666" >0</text>
<text x="178" y="337.12" font-size="3.6" text-anchor="end" font-weight="normal" fill="#666" >20</text>
<text x="178" y="321.54" font-size="3.6" text-anchor="end" font-weight="normal" fill="#666" >40</text>
<text x="178" y="305.96" font-size="3.6" text-anchor="end" font-weight="normal" fill="#666" >60</text>
<text x="178" y="290.38" font-size="3.6" text-anchor="end" font-weight="normal" fill="#666" >80</text>
<text x="178" y="274.8" font-size="3.6" text-anchor="end" font-weight="normal" fill="#666" >100</text>
<text x="182.9" y="357.0" font-size="3.6" text-anchor="middle" font-weight="normal" fill="#666" >0</text>
<text x="198.08" y="357.0" font-size="3.6" text-anchor="middle" font-weight="normal" fill="#666" >200</text>
<text x="213.26" y="357.0" font-size="3.6" text-anchor="middle" font-weight="normal" fill="#666" >400</text>
<text x="228.44" y="357.0" font-size="3.6" text-anchor="middle" font-weight="normal" fill="#666" >600</text>
<text x="243.62" y="357.0" font-size="3.6" text-anchor="middle" font-weight="normal" fill="#666" >800</text>
<text x="258.8" y="357.0" font-size="3.6" text-anchor="middle" font-weight="normal" fill="#666" >1000</text>
<rect x="208" y="277.6" width="60" height="46.19999999999999" fill="#fff"/>
<text transform="translate(210.9,285.6) scale(0.925,1)" font-size="8.0" text-anchor="start" font-weight="normal" fill="#111" stroke="#111" stroke-width="0.22" >Dead</text>
<text transform="translate(267.6,285.6) scale(0.925,1)" font-size="8.0" text-anchor="end" font-weight="normal" fill="#111" stroke="#111" stroke-width="0.22" >9.7±1.8%</text>
<text transform="translate(210.9,294.5) scale(0.925,1)" font-size="8.0" text-anchor="start" font-weight="normal" fill="#111" stroke="#111" stroke-width="0.22" >G1/0</text>
<text transform="translate(267.6,294.5) scale(0.925,1)" font-size="8.0" text-anchor="end" font-weight="normal" fill="#111" stroke="#111" stroke-width="0.22" >62.6±4.0%</text>
<text transform="translate(210.9,303.4) scale(0.925,1)" font-size="8.0" text-anchor="start" font-weight="normal" fill="#111" stroke="#111" stroke-width="0.22" >S</text>
<text transform="translate(267.6,303.4) scale(0.925,1)" font-size="8.0" text-anchor="end" font-weight="normal" fill="#111" stroke="#111" stroke-width="0.22" >3.4±0.4%</text>
<text transform="translate(210.9,312.3) scale(0.925,1)" font-size="8.0" text-anchor="start" font-weight="normal" fill="#111" stroke="#111" stroke-width="0.22" >G2/M</text>
<text transform="translate(267.6,312.3) scale(0.925,1)" font-size="8.0" text-anchor="end" font-weight="normal" fill="#111" stroke="#111" stroke-width="0.22" >13.6±1.1%</text>
<text transform="translate(210.9,321.3) scale(0.925,1)" font-size="8.0" text-anchor="start" font-weight="normal" fill="#111" stroke="#111" stroke-width="0.22" >4n&lt;</text>
<text transform="translate(267.6,321.3) scale(0.925,1)" font-size="8.0" text-anchor="end" font-weight="normal" fill="#111" stroke="#111" stroke-width="0.22" >10.4±2.4%</text>
<clipPath id="cp0"><rect x="278" y="25" width="77.6" height="78.0"/></clipPath>
<rect x="278" y="25" width="77.6" height="78.0" fill="#cacaca"/>
<g clip-path="url(#cp0)"><g filter="url(#bl)"><ellipse cx="300" cy="52" rx="18" ry="13" fill="#bcb2d4" fill-opacity=".85"/>
<ellipse cx="328" cy="64" rx="14" ry="12" fill="#bcb2d4" fill-opacity=".85"/>
<ellipse cx="320" cy="84" rx="7" ry="9" fill="#bcb2d4" fill-opacity=".85"/>
<circle cx="288" cy="45" r="10" fill="url(#gpa)" stroke="#8c88a0" stroke-opacity=".5" stroke-width=".6"/>
<circle cx="329" cy="46.6" r="6" fill="url(#gpa)" stroke="#8c88a0" stroke-opacity=".5" stroke-width=".6"/>
<circle cx="350.6" cy="52" r="5" fill="url(#gpa)" stroke="#8c88a0" stroke-opacity=".5" stroke-width=".6"/>
<circle cx="319.2" cy="93.3" r="6.5" fill="url(#gpa)" stroke="#8c88a0" stroke-opacity=".5" stroke-width=".6"/>
<circle cx="314.8" cy="95.4" r="5" fill="url(#gpa)" stroke="#8c88a0" stroke-opacity=".5" stroke-width=".6"/>
<circle cx="292" cy="71.6" r="3.5" fill="url(#gpa)" stroke="#8c88a0" stroke-opacity=".5" stroke-width=".6"/>
<circle cx="290" cy="50" r="10.32" fill="url(#gcy0)" stroke="#eeeaf6" stroke-opacity=".6" stroke-width=".6"/>
<circle cx="290.00" cy="50.00" r="5.39" fill="url(#gnv)"/>
<circle cx="301.2" cy="42.8" r="7.20" fill="url(#gcy0)" stroke="#eeeaf6" stroke-opacity=".6" stroke-width=".6"/>
<circle cx="301.20" cy="42.80" r="3.63" fill="url(#gnv)"/>
<circle cx="315.3" cy="37.4" r="7.80" fill="url(#gcy0)" stroke="#eeeaf6" stroke-opacity=".6" stroke-width=".6"/>
<circle cx="315.30" cy="37.40" r="3.96" fill="url(#gnv)"/>
<circle cx="317" cy="48" r="8.40" fill="url(#gcy0)" stroke="#eeeaf6" stroke-opacity=".6" stroke-width=".6"/>
<circle cx="317.00" cy="48.00" r="5.06" fill="url(#gnv)"/>
<circle cx="304.5" cy="58.3" r="10.20" fill="url(#gcy0)" stroke="#eeeaf6" stroke-opacity=".6" stroke-width=".6"/>
<circle cx="304.50" cy="58.30" r="6.38" fill="url(#gnv)"/>
<circle cx="292.6" cy="60.7" r="6.00" fill="url(#gcy0)" stroke="#eeeaf6" stroke-opacity=".6" stroke-width=".6"/>
<circle cx="292.60" cy="60.70" r="3.52" fill="url(#gnd)"/>
<circle cx="321.4" cy="59.6" r="7.80" fill="url(#gcy0)" stroke="#eeeaf6" stroke-opacity=".6" stroke-width=".6"/>
<circle cx="321.40" cy="59.60" r="4.62" fill="url(#gnv)"/>
<circle cx="329.8" cy="61.8" r="5.40" fill="url(#gcy0)" stroke="#eeeaf6" stroke-opacity=".6" stroke-width=".6"/>
<circle cx="329.80" cy="61.80" r="3.3" fill="url(#gnd)"/>
<circle cx="341.4" cy="58" r="9.00" fill="url(#gcy0)" stroke="#eeeaf6" stroke-opacity=".6" stroke-width=".6"/>
<circle cx="341.40" cy="58.00" r="5.83" fill="url(#gnv)"/>
<circle cx="320.3" cy="73.3" r="8.40" fill="url(#gcy0)" stroke="#eeeaf6" stroke-opacity=".6" stroke-width=".6"/>
<circle cx="320.30" cy="73.30" r="5.5" fill="url(#gnv)"/>
<circle cx="336" cy="74.4" r="9.00" fill="url(#gcy0)" stroke="#eeeaf6" stroke-opacity=".6" stroke-width=".6"/>
<circle cx="336.00" cy="74.40" r="6.05" fill="url(#gnv)"/>
<circle cx="326.3" cy="83.5" r="6.60" fill="url(#gcy0)" stroke="#eeeaf6" stroke-opacity=".6" stroke-width=".6"/>
<circle cx="326.30" cy="83.50" r="3.63" fill="url(#gnd)"/>
<circle cx="355" cy="58.5" r="2.5" fill="url(#gnv)"/></g></g>
<path d="M337.3,95.7H350.5" stroke="#111" stroke-width="1.6"/>
<text x="319.5" y="113.8" font-size="8.2" text-anchor="middle" font-weight="normal" fill="#111" stroke="#111" stroke-width="0.22" >0</text>
<clipPath id="cp1"><rect x="358.2" y="25" width="50.2" height="77.5"/></clipPath>
<rect x="358.2" y="25" width="50.2" height="77.5" fill="#dbdbd9"/>
<g clip-path="url(#cp1)"><g filter="url(#bl)"><circle cx="359.8" cy="28.9" r="3.5" fill="url(#gnv)"/>
<circle cx="384.1" cy="28.3" r="5.5" fill="#d8a8d8" fill-opacity=".85"/>
<circle cx="396" cy="38.6" r="6" fill="url(#gpl)" stroke="#9894ac" stroke-opacity=".5" stroke-width=".6"/>
<circle cx="383" cy="45.6" r="5" fill="url(#gpl)" stroke="#9894ac" stroke-opacity=".5" stroke-width=".6"/>
<circle cx="384.6" cy="36.4" r="7.00" fill="url(#gcy1)" stroke="#eeeaf6" stroke-opacity=".6" stroke-width=".6"/>
<circle cx="384.60" cy="36.40" r="4.3" fill="url(#gnv)"/>
<circle cx="373.3" cy="54.2" r="7.00" fill="url(#gcy1)" stroke="#eeeaf6" stroke-opacity=".6" stroke-width=".6"/>
<circle cx="373.30" cy="54.20" r="4.5" fill="url(#gnv)"/>
<circle cx="382.5" cy="52.1" r="6.50" fill="url(#gcy1)" stroke="#eeeaf6" stroke-opacity=".6" stroke-width=".6"/>
<circle cx="382.50" cy="52.10" r="4.3" fill="url(#gnv)"/>
<circle cx="394.9" cy="52.6" r="6.50" fill="url(#gcy1)" stroke="#eeeaf6" stroke-opacity=".6" stroke-width=".6"/>
<circle cx="394.90" cy="52.60" r="4.3" fill="url(#gnv)"/>
<circle cx="387.3" cy="60.7" r="6" fill="#d8a8d8" fill-opacity=".85"/>
<circle cx="362.8" cy="71.1" r="6.00" fill="url(#gcy1)" stroke="#eeeaf6" stroke-opacity=".6" stroke-width=".6"/>
<circle cx="362.5" cy="70.5" r="3.2" fill="#d8a8d8" fill-opacity=".85"/>
<circle cx="374.7" cy="64.3" r="5" fill="url(#gpl)" stroke="#9894ac" stroke-opacity=".5" stroke-width=".6"/>
<circle cx="387.8" cy="63.7" r="5" fill="#d8a8d8" fill-opacity=".85"/>
<circle cx="382.7" cy="67.7" r="6.00" fill="url(#gcd)" stroke="#7c7894" stroke-opacity=".55" stroke-width=".6"/>
<circle cx="382.7" cy="67.7" r="4.20" fill="#d8d4ea" fill-opacity=".8"/>
<circle cx="382.70" cy="67.70" r="3.5" fill="url(#gnd)"/>
<circle cx="375.3" cy="75" r="5.50" fill="url(#gcd)" stroke="#7c7894" stroke-opacity=".55" stroke-width=".6"/>
<circle cx="375.3" cy="75" r="4.70" fill="#d8d4ea" fill-opacity=".8"/>
<circle cx="375.30" cy="75.00" r="4.0" fill="url(#gnd)"/>
<circle cx="384.9" cy="79" r="6.50" fill="url(#gcy1)" stroke="#eeeaf6" stroke-opacity=".6" stroke-width=".6"/>
<circle cx="384.90" cy="79.00" r="3.8" fill="url(#gnv)"/>
<circle cx="392.3" cy="89.2" r="8" fill="url(#gpl)" stroke="#9894ac" stroke-opacity=".5" stroke-width=".6"/>
<circle cx="396.3" cy="80.2" r="7.00" fill="url(#gcy1)" stroke="#eeeaf6" stroke-opacity=".6" stroke-width=".6"/>
<circle cx="396.30" cy="80.20" r="3.8" fill="url(#gnv)"/>
<circle cx="359.4" cy="97.2" r="3" fill="url(#gpl)" stroke="#9894ac" stroke-opacity=".5" stroke-width=".6"/></g></g>
<path d="M366.1,95.3H379.7" stroke="#111" stroke-width="1.6"/>
<text x="384" y="113.8" font-size="8.2" text-anchor="middle" font-weight="normal" fill="#111" stroke="#111" stroke-width="0.22" >24</text>
<clipPath id="cp2"><rect x="411.2" y="25" width="49.6" height="77.5"/></clipPath>
<rect x="411.2" y="25" width="49.6" height="77.5" fill="#dddedc"/>
<g clip-path="url(#cp2)"><g filter="url(#bl)"><circle cx="457.1" cy="32.6" r="5.80" fill="url(#gcb)" stroke="#8884a8" stroke-opacity=".5" stroke-width=".6"/>
<circle cx="457.10" cy="32.60" r="3.6" fill="url(#gnb)"/>
<circle cx="445.8" cy="60.8" r="6" fill="url(#gpl)" stroke="#9894ac" stroke-opacity=".5" stroke-width=".6"/>
<circle cx="450.6" cy="48.3" r="8.00" fill="url(#gcb)" stroke="#8884a8" stroke-opacity=".5" stroke-width=".6"/>
<circle cx="450.60" cy="48.30" r="4.5" fill="url(#gnb)"/>
<circle cx="459.5" cy="54.3" r="3" fill="url(#gnd)"/>
<circle cx="435.5" cy="58" r="1.2" fill="#707070"/>
<circle cx="417.5" cy="69.5" r="7" fill="url(#gpl)" stroke="#9894ac" stroke-opacity=".5" stroke-width=".6"/>
<circle cx="440.5" cy="64" r="7.5" fill="url(#gpl)" stroke="#9894ac" stroke-opacity=".5" stroke-width=".6"/>
<circle cx="430" cy="76" r="5" fill="url(#gpl)" stroke="#9894ac" stroke-opacity=".5" stroke-width=".6"/>
<circle cx="428.8" cy="72.8" r="4.80" fill="url(#gcb)" stroke="#8884a8" stroke-opacity=".5" stroke-width=".6"/>
<circle cx="428.80" cy="72.80" r="3.3" fill="url(#gnb)"/>
<circle cx="456.5" cy="90.3" r="8.00" fill="url(#gcb)" stroke="#8884a8" stroke-opacity=".5" stroke-width=".6"/>
<circle cx="456.50" cy="90.30" r="5.5" fill="url(#gnb)"/>
<circle cx="435.6" cy="96.6" r="6.50" fill="url(#gcb)" stroke="#8884a8" stroke-opacity=".5" stroke-width=".6"/>
<circle cx="435.60" cy="96.60" r="4.5" fill="url(#gnb)"/>
<circle cx="420.3" cy="91.5" r="0.8" fill="#707070"/>
<circle cx="419.8" cy="25.8" r="1.5" fill="#707070"/></g></g>
<path d="M444.6,99H457.9" stroke="#111" stroke-width="1.6"/>
<text x="436" y="113.8" font-size="8.2" text-anchor="middle" font-weight="normal" fill="#111" stroke="#111" stroke-width="0.22" >48</text>
<clipPath id="cp3"><rect x="464.2" y="25" width="51.4" height="77.5"/></clipPath>
<rect x="464.2" y="25" width="51.4" height="77.5" fill="#d8d9d7"/>
<g clip-path="url(#cp3)"><g filter="url(#bl)"><circle cx="468.5" cy="33.7" r="6" fill="url(#gpk)" stroke="#9c8ca4" stroke-opacity=".5" stroke-width=".6"/>
<circle cx="479.3" cy="26.2" r="3" fill="url(#gnd)"/>
<circle cx="480.4" cy="33.2" r="6.00" fill="url(#gcd)" stroke="#7c7894" stroke-opacity=".55" stroke-width=".6"/>
<circle cx="480.4" cy="33.2" r="4.20" fill="#d8d4ea" fill-opacity=".8"/>
<circle cx="480.40" cy="33.20" r="3.5" fill="url(#gnd)"/>
<circle cx="503" cy="61" r="5.5" fill="url(#gpk)" stroke="#9c8ca4" stroke-opacity=".5" stroke-width=".6"/>
<circle cx="469" cy="89" r="6.5" fill="url(#gpk)" stroke="#9c8ca4" stroke-opacity=".5" stroke-width=".6"/>
<circle cx="495" cy="81" r="5.5" fill="url(#gpk)" stroke="#9c8ca4" stroke-opacity=".5" stroke-width=".6"/>
<circle cx="487" cy="93.8" r="5.5" fill="url(#gpk)" stroke="#9c8ca4" stroke-opacity=".5" stroke-width=".6"/>
<circle cx="484.7" cy="89.8" r="1.2" fill="#707070"/>
<circle cx="477" cy="75.6" r="4.2" fill="#3c1c84"/>
<circle cx="475.1" cy="83" r="3.6" fill="#3c1c84"/>
<circle cx="482" cy="81.9" r="3" fill="url(#gnd)"/></g></g>
<path d="M498.3,95.5H511.5" stroke="#111" stroke-width="1.6"/>
<text x="489.5" y="113.8" font-size="8.8" text-anchor="middle" font-weight="normal" fill="#111" stroke="#111" stroke-width="0.22" >72h</text>
<clipPath id="cp4"><rect x="278" y="156.2" width="77.0" height="77.3"/></clipPath>
<rect x="278" y="156.2" width="77.0" height="77.3" fill="#c9c8c6"/>
<g clip-path="url(#cp4)"><g filter="url(#bl)"><circle cx="304.4" cy="203.8" r="7" fill="url(#gpa)" stroke="#8c88a0" stroke-opacity=".5" stroke-width=".6"/>
<circle cx="307.9" cy="166.3" r="7.10" fill="url(#gcy)" stroke="#eeeaf6" stroke-opacity=".6" stroke-width=".6"/>
<circle cx="307.90" cy="166.30" r="3.6" fill="url(#gnV)"/>
<circle cx="333.6" cy="163.5" r="7.6" fill="url(#gpa)" stroke="#8c88a0" stroke-opacity=".5" stroke-width=".6"/>
<circle cx="335.1" cy="163.8" r="3.4" fill="url(#gnd)"/>
<circle cx="287" cy="225.1" r="8.70" fill="url(#gcd)" stroke="#7c7894" stroke-opacity=".55" stroke-width=".6"/>
<circle cx="288.6" cy="226.4" r="4.30" fill="#d8d4ea" fill-opacity=".8"/>
<circle cx="288.60" cy="226.40" r="3.6" fill="url(#gnd)"/>
<circle cx="298" cy="215.7" r="7.5" fill="url(#gpa)" stroke="#8c88a0" stroke-opacity=".5" stroke-width=".6"/>
<circle cx="301.2" cy="218.5" r="3.6" fill="url(#gnd)"/>
<circle cx="317.3" cy="206.5" r="7.20" fill="url(#gcy)" stroke="#eeeaf6" stroke-opacity=".6" stroke-width=".6"/>
<circle cx="318.60" cy="207.80" r="3.8" fill="url(#gnV)"/>
<circle cx="343.8" cy="201.5" r="5.5" fill="url(#gpa)" stroke="#8c88a0" stroke-opacity=".5" stroke-width=".6"/>
<circle cx="343.8" cy="201.5" r="3.4" fill="url(#gnd)"/>
<circle cx="342.2" cy="213.5" r="3.4" fill="#5e2286"/>
<circle cx="344.5" cy="217.5" r="2.8" fill="#5e2286"/>
<circle cx="341" cy="219" r="2.2" fill="#5e2286"/>
<circle cx="339.8" cy="214.8" r="2.2" fill="#5e2286"/></g></g>
<path d="M337.2,226.5H350.2" stroke="#111" stroke-width="1.6"/>
<text x="316" y="244.0" font-size="8.2" text-anchor="middle" font-weight="normal" fill="#111" stroke="#111" stroke-width="0.22" >24</text>
<clipPath id="cp5"><rect x="358.2" y="156.2" width="77.6" height="77.3"/></clipPath>
<rect x="358.2" y="156.2" width="77.6" height="77.3" fill="#c9c9c7"/>
<g clip-path="url(#cp5)"><g filter="url(#bl)"><circle cx="369.4" cy="174.5" r="6.00" fill="url(#gcd)" stroke="#7c7894" stroke-opacity=".55" stroke-width=".6"/>
<circle cx="369.4" cy="174.5" r="4.60" fill="#d8d4ea" fill-opacity=".8"/>
<circle cx="369.40" cy="174.50" r="3.9" fill="url(#gnd)"/>
<circle cx="427" cy="161.9" r="4.80" fill="url(#gcd)" stroke="#7c7894" stroke-opacity=".55" stroke-width=".6"/>
<circle cx="427" cy="161.9" r="4.10" fill="#d8d4ea" fill-opacity=".8"/>
<circle cx="427.00" cy="161.90" r="3.4" fill="url(#gnd)"/>
<circle cx="426.7" cy="182.7" r="6.00" fill="url(#gcd)" stroke="#7c7894" stroke-opacity=".55" stroke-width=".6"/>
<circle cx="426.7" cy="182.7" r="4.00" fill="#d8d4ea" fill-opacity=".8"/>
<circle cx="426.70" cy="182.70" r="3.3" fill="url(#gnd)"/>
<circle cx="393.9" cy="186.3" r="9.50" fill="url(#gcy)" stroke="#eeeaf6" stroke-opacity=".6" stroke-width=".6"/>
<circle cx="393.9" cy="182.4" r="3.6" fill="url(#gnV)"/>
<circle cx="391.5" cy="191.1" r="3.9" fill="url(#gnV)"/>
<circle cx="407.5" cy="191.5" r="5.5" fill="url(#gpa)" stroke="#8c88a0" stroke-opacity=".5" stroke-width=".6"/>
<circle cx="406.5" cy="191.5" r="3.1" fill="url(#gnd)"/>
<circle cx="371" cy="203" r="5.50" fill="url(#gcd)" stroke="#7c7894" stroke-opacity=".55" stroke-width=".6"/>
<circle cx="369.4" cy="203.8" r="4.00" fill="#d8d4ea" fill-opacity=".8"/>
<circle cx="369.40" cy="203.80" r="3.3" fill="url(#gnd)"/>
<circle cx="393.9" cy="206.2" r="6" fill="url(#gpa)" stroke="#8c88a0" stroke-opacity=".5" stroke-width=".6"/>
<circle cx="390.7" cy="207" r="3.3" fill="url(#gnd)"/>
<circle cx="395" cy="216.4" r="5.5" fill="url(#gpa)" stroke="#8c88a0" stroke-opacity=".5" stroke-width=".6"/>
<circle cx="393.1" cy="216.4" r="3.3" fill="url(#gnd)"/>
<circle cx="367" cy="222" r="6.00" fill="url(#gcd)" stroke="#7c7894" stroke-opacity=".55" stroke-width=".6"/>
<circle cx="367.8" cy="221.2" r="4.10" fill="#d8d4ea" fill-opacity=".8"/>
<circle cx="367.80" cy="221.20" r="3.4" fill="url(#gnd)"/>
<circle cx="386" cy="224.3" r="8.00" fill="url(#gcd)" stroke="#7c7894" stroke-opacity=".55" stroke-width=".6"/>
<circle cx="382.8" cy="222.8" r="3.1" fill="url(#gnd)"/>
<circle cx="385.2" cy="226.7" r="3.1" fill="url(#gnd)"/>
<circle cx="404" cy="234" r="9" fill="#c08cc8" fill-opacity=".8"/>
<circle cx="407" cy="234" r="5.5" fill="url(#gmg)"/></g></g>
<path d="M417.2,226.5H430.2" stroke="#111" stroke-width="1.6"/>
<text x="395.8" y="244.0" font-size="8.2" text-anchor="middle" font-weight="normal" fill="#111" stroke="#111" stroke-width="0.22" >48</text>
<clipPath id="cp6"><rect x="438" y="156.2" width="77.7" height="77.3"/></clipPath>
<rect x="438" y="156.2" width="77.7" height="77.3" fill="#cacccc"/>
<g clip-path="url(#cp6)"><g filter="url(#bl)"><circle cx="438.4" cy="166.6" r="3" fill="url(#gpa)" stroke="#8c88a0" stroke-opacity=".5" stroke-width=".6"/>
<circle cx="448.6" cy="165.8" r="1" fill="#707070"/>
<circle cx="451" cy="184.8" r="5.50" fill="url(#gcd)" stroke="#7c7894" stroke-opacity=".55" stroke-width=".6"/>
<circle cx="451" cy="184.8" r="4.00" fill="#d8d4ea" fill-opacity=".8"/>
<circle cx="451.00" cy="184.80" r="3.3" fill="url(#gnd)"/>
<circle cx="442.3" cy="191.1" r="6.00" fill="url(#gcd)" stroke="#7c7894" stroke-opacity=".55" stroke-width=".6"/>
<circle cx="442.3" cy="191.1" r="4.00" fill="#d8d4ea" fill-opacity=".8"/>
<circle cx="442.30" cy="191.10" r="3.3" fill="url(#gnd)"/>
<circle cx="469" cy="191" r="6.00" fill="url(#gcd)" stroke="#7c7894" stroke-opacity=".55" stroke-width=".6"/>
<circle cx="468.3" cy="191" r="4.00" fill="#d8d4ea" fill-opacity=".8"/>
<circle cx="468.30" cy="191.00" r="3.3" fill="url(#gnd)"/>
<circle cx="479.5" cy="188.5" r="6.50" fill="url(#gcd)" stroke="#7c7894" stroke-opacity=".55" stroke-width=".6"/>
<circle cx="478.6" cy="187.9" r="4.00" fill="#d8d4ea" fill-opacity=".8"/>
<circle cx="478.60" cy="187.90" r="3.3" fill="url(#gnd)"/>
<circle cx="488" cy="174.5" r="6" fill="#c08cc8" fill-opacity=".8"/>
<circle cx="498.3" cy="187.9" r="6" fill="url(#gpa)" stroke="#8c88a0" stroke-opacity=".5" stroke-width=".6"/>
<circle cx="496" cy="173.5" r="6.00" fill="url(#gcd)" stroke="#7c7894" stroke-opacity=".55" stroke-width=".6"/>
<circle cx="494.4" cy="174.5" r="4.00" fill="#d8d4ea" fill-opacity=".8"/>
<circle cx="494.40" cy="174.50" r="3.3" fill="url(#gnd)"/>
<circle cx="497.5" cy="180.8" r="5.00" fill="url(#gcd)" stroke="#7c7894" stroke-opacity=".55" stroke-width=".6"/>
<circle cx="497.5" cy="180.8" r="3.90" fill="#d8d4ea" fill-opacity=".8"/>
<circle cx="497.50" cy="180.80" r="3.2" fill="url(#gnd)"/>
<circle cx="505.7" cy="180.8" r="6.00" fill="url(#gcd)" stroke="#7c7894" stroke-opacity=".55" stroke-width=".6"/>
<circle cx="505.7" cy="180.8" r="4.00" fill="#d8d4ea" fill-opacity=".8"/>
<circle cx="505.70" cy="180.80" r="3.3" fill="url(#gnd)"/>
<circle cx="447.8" cy="202.3" r="5.50" fill="url(#gcd)" stroke="#7c7894" stroke-opacity=".55" stroke-width=".6"/>
<circle cx="447.8" cy="202.3" r="4.00" fill="#d8d4ea" fill-opacity=".8"/>
<circle cx="447.80" cy="202.30" r="3.3" fill="url(#gnd)"/>
<circle cx="469.9" cy="202.3" r="6.50" fill="url(#gcd)" stroke="#7c7894" stroke-opacity=".55" stroke-width=".6"/>
<circle cx="469.9" cy="202.3" r="4.70" fill="#d8d4ea" fill-opacity=".8"/>
<circle cx="469.90" cy="202.30" r="4.0" fill="url(#gnd)"/>
<circle cx="480.5" cy="199.5" r="6.00" fill="url(#gcd)" stroke="#7c7894" stroke-opacity=".55" stroke-width=".6"/>
<circle cx="478.6" cy="198.3" r="4.00" fill="#d8d4ea" fill-opacity=".8"/>
<circle cx="478.60" cy="198.30" r="3.3" fill="url(#gnd)"/>
<circle cx="484.8" cy="212.2" r="6.00" fill="url(#gcd)" stroke="#7c7894" stroke-opacity=".55" stroke-width=".6"/>
<circle cx="483.3" cy="210.89999999999998" r="4.00" fill="#d8d4ea" fill-opacity=".8"/>
<circle cx="483.30" cy="210.90" r="3.3" fill="url(#gnd)"/>
<circle cx="494.4" cy="214.9" r="5.50" fill="url(#gcd)" stroke="#7c7894" stroke-opacity=".55" stroke-width=".6"/>
<circle cx="494.4" cy="214.9" r="4.00" fill="#d8d4ea" fill-opacity=".8"/>
<circle cx="494.40" cy="214.90" r="3.3" fill="url(#gnd)"/>
<circle cx="473.8" cy="219.5" r="6.50" fill="url(#gcd)" stroke="#7c7894" stroke-opacity=".55" stroke-width=".6"/>
<circle cx="472.3" cy="218.0" r="4.20" fill="#d8d4ea" fill-opacity=".8"/>
<circle cx="472.30" cy="218.00" r="3.5" fill="url(#gnd)"/>
<circle cx="467.5" cy="231" r="8" fill="#c08cc8" fill-opacity=".8"/>
<circle cx="515.4" cy="158.7" r="1" fill="#707070"/></g></g>
<path d="M495.2,226.5H508.7" stroke="#111" stroke-width="1.6"/>
<text x="477.6" y="244.0" font-size="8.8" text-anchor="middle" font-weight="normal" fill="#111" stroke="#111" stroke-width="0.22" >72h</text>
<clipPath id="cp7"><rect x="278" y="271.4" width="77.0" height="77.1"/></clipPath>
<rect x="278" y="271.4" width="77.0" height="77.1" fill="#cacaca"/>
<g clip-path="url(#cp7)"><g filter="url(#bl)"><circle cx="279.3" cy="272.6" r="2.2" fill="url(#gnd)"/>
<circle cx="278.5" cy="279.1" r="1.6" fill="#d8a8d8" fill-opacity=".85"/>
<circle cx="287.7" cy="285" r="8.10" fill="url(#gcy)" stroke="#eeeaf6" stroke-opacity=".6" stroke-width=".6"/>
<circle cx="292" cy="281.8" r="4.2" fill="url(#gpa)" stroke="#8c88a0" stroke-opacity=".5" stroke-width=".6"/>
<circle cx="284.5" cy="284" r="3.8" fill="url(#gnd)"/>
<circle cx="288.3" cy="281.8" r="3.3" fill="url(#gnd)"/>
<circle cx="285.6" cy="288.8" r="3.5" fill="url(#gnd)"/>
<circle cx="306.6" cy="287.8" r="4.3" fill="url(#gpa)" stroke="#8c88a0" stroke-opacity=".5" stroke-width=".6"/>
<circle cx="319.1" cy="274.2" r="4" fill="url(#gpa)" stroke="#8c88a0" stroke-opacity=".5" stroke-width=".6"/>
<circle cx="322.3" cy="285" r="5.5" fill="url(#gpa)" stroke="#8c88a0" stroke-opacity=".5" stroke-width=".6"/>
<circle cx="318.5" cy="286.7" r="3" fill="url(#gnd)"/>
<circle cx="340.2" cy="287.2" r="6.5" fill="url(#gpa)" stroke="#8c88a0" stroke-opacity=".5" stroke-width=".6"/>
<circle cx="346.6" cy="296.4" r="5.5" fill="url(#gpa)" stroke="#8c88a0" stroke-opacity=".5" stroke-width=".6"/>
<circle cx="338.5" cy="298" r="3.5" fill="url(#gnd)"/>
<circle cx="297.5" cy="300.2" r="8.10" fill="url(#gcy)" stroke="#eeeaf6" stroke-opacity=".6" stroke-width=".6"/>
<circle cx="296.40" cy="301.30" r="5.4" fill="url(#gnV)"/>
<circle cx="313.9" cy="299.8" r="2" fill="url(#gpl)" stroke="#9894ac" stroke-opacity=".5" stroke-width=".6"/>
<circle cx="329.6" cy="306.9" r="6.50" fill="url(#gcy)" stroke="#eeeaf6" stroke-opacity=".6" stroke-width=".6"/>
<circle cx="328.80" cy="307.20" r="4.5" fill="url(#gnV)"/>
<circle cx="342.3" cy="308.3" r="6.00" fill="url(#gcy)" stroke="#eeeaf6" stroke-opacity=".6" stroke-width=".6"/>
<circle cx="342.30" cy="308.30" r="4.0" fill="url(#gnV)"/>
<circle cx="308.3" cy="307.6" r="4" fill="url(#gpa)" stroke="#8c88a0" stroke-opacity=".5" stroke-width=".6"/>
<circle cx="302.8" cy="311.7" r="6.50" fill="url(#gcd)" stroke="#7c7894" stroke-opacity=".55" stroke-width=".6"/>
<circle cx="302.8" cy="311.7" r="4.20" fill="#d8d4ea" fill-opacity=".8"/>
<circle cx="302.80" cy="311.70" r="3.5" fill="url(#gnd)"/>
<circle cx="300.1" cy="324.6" r="6.30" fill="url(#gcy)" stroke="#eeeaf6" stroke-opacity=".6" stroke-width=".6"/>
<circle cx="300.10" cy="324.60" r="3.6" fill="url(#gnV)"/>
<circle cx="321.7" cy="325.6" r="6.30" fill="url(#gcy)" stroke="#eeeaf6" stroke-opacity=".6" stroke-width=".6"/>
<circle cx="321.70" cy="325.60" r="4.0" fill="url(#gnV)"/>
<circle cx="335.2" cy="326.5" r="6" fill="url(#gpa)" stroke="#8c88a0" stroke-opacity=".5" stroke-width=".6"/>
<circle cx="314" cy="332.8" r="6.50" fill="url(#gcy)" stroke="#eeeaf6" stroke-opacity=".6" stroke-width=".6"/>
<circle cx="314.00" cy="332.80" r="4.3" fill="url(#gnV)"/>
<circle cx="329" cy="338.6" r="8.20" fill="url(#gcy)" stroke="#eeeaf6" stroke-opacity=".6" stroke-width=".6"/>
<ellipse cx="329" cy="338.6" rx="4.5" ry="6" fill="url(#gnV)"/>
<circle cx="280" cy="340.9" r="5" fill="url(#gpa)" stroke="#8c88a0" stroke-opacity=".5" stroke-width=".6"/>
<circle cx="301" cy="341" r="1.3" fill="#707070"/></g></g>
<path d="M337.4,340.4H349.9" stroke="#111" stroke-width="1.6"/>
<text x="316" y="360.8" font-size="8.2" text-anchor="middle" font-weight="normal" fill="#111" stroke="#111" stroke-width="0.22" >24</text>
<clipPath id="cp8"><rect x="358.2" y="271.4" width="77.6" height="77.1"/></clipPath>
<rect x="358.2" y="271.4" width="77.6" height="77.1" fill="#c7c7c5"/>
<g clip-path="url(#cp8)"><g filter="url(#bl)"><circle cx="378.1" cy="281" r="7.5" fill="url(#gpa)" stroke="#8c88a0" stroke-opacity=".5" stroke-width=".6"/>
<circle cx="376.5" cy="277" r="5.5" fill="url(#gpa)" stroke="#8c88a0" stroke-opacity=".5" stroke-width=".6"/>
<circle cx="379.7" cy="287.1" r="5.50" fill="url(#gcy)" stroke="#eeeaf6" stroke-opacity=".6" stroke-width=".6"/>
<circle cx="379.70" cy="287.10" r="4.6" fill="url(#gnV)"/>
<circle cx="415.9" cy="295" r="1.7" fill="#707070"/>
<circle cx="374.9" cy="300.1" r="5.20" fill="url(#gcd)" stroke="#7c7894" stroke-opacity=".55" stroke-width=".6"/>
<circle cx="374.9" cy="302.1" r="3.70" fill="#d8d4ea" fill-opacity=".8"/>
<circle cx="374.90" cy="302.10" r="3.0" fill="url(#gnd)"/>
<circle cx="366.3" cy="306.9" r="6.00" fill="url(#gcy)" stroke="#eeeaf6" stroke-opacity=".6" stroke-width=".6"/>
<circle cx="366.30" cy="306.90" r="3.7" fill="url(#gnV)"/>
<circle cx="382.8" cy="306.1" r="3.1" fill="url(#gnd)"/>
<circle cx="369.4" cy="316.5" r="6.5" fill="url(#gpa)" stroke="#8c88a0" stroke-opacity=".5" stroke-width=".6"/>
<circle cx="386" cy="317.3" r="8.00" fill="url(#gcy)" stroke="#eeeaf6" stroke-opacity=".6" stroke-width=".6"/>
<circle cx="386.80" cy="318.80" r="4.6" fill="url(#gnV)"/>
<circle cx="392.3" cy="330.7" r="6" fill="url(#gpa)" stroke="#8c88a0" stroke-opacity=".5" stroke-width=".6"/>
<circle cx="403.3" cy="321.2" r="8" fill="url(#gpa)" stroke="#8c88a0" stroke-opacity=".5" stroke-width=".6"/>
<circle cx="413.6" cy="322" r="5.50" fill="url(#gcd)" stroke="#7c7894" stroke-opacity=".55" stroke-width=".6"/>
<circle cx="413.6" cy="322" r="4.70" fill="#d8d4ea" fill-opacity=".8"/>
<circle cx="413.60" cy="322.00" r="4.0" fill="url(#gnd)"/>
<circle cx="422.2" cy="330.7" r="8.5" fill="url(#gmg)"/>
<circle cx="411.2" cy="336.2" r="6.00" fill="url(#gcd)" stroke="#7c7894" stroke-opacity=".55" stroke-width=".6"/>
<circle cx="411.2" cy="336.2" r="4.20" fill="#d8d4ea" fill-opacity=".8"/>
<circle cx="411.20" cy="336.20" r="3.5" fill="url(#gnd)"/>
<circle cx="430.1" cy="337.8" r="6.00" fill="url(#gcd)" stroke="#7c7894" stroke-opacity=".55" stroke-width=".6"/>
<circle cx="430.1" cy="337.8" r="4.20" fill="#d8d4ea" fill-opacity=".8"/>
<circle cx="430.10" cy="337.80" r="3.5" fill="url(#gnd)"/>
<circle cx="422.2" cy="344.9" r="6.00" fill="url(#gcd)" stroke="#7c7894" stroke-opacity=".55" stroke-width=".6"/>
<circle cx="422.2" cy="344.9" r="4.20" fill="#d8d4ea" fill-opacity=".8"/>
<circle cx="422.20" cy="344.90" r="3.5" fill="url(#gnd)"/></g></g>
<path d="M364.8,340.4H378.2" stroke="#111" stroke-width="1.6"/>
<text x="396" y="360.8" font-size="8.2" text-anchor="middle" font-weight="normal" fill="#111" stroke="#111" stroke-width="0.22" >48</text>
<clipPath id="cp9"><rect x="438" y="271.4" width="77.7" height="77.1"/></clipPath>
<rect x="438" y="271.4" width="77.7" height="77.1" fill="#c6c6c3"/>
<g clip-path="url(#cp9)"><g filter="url(#bl)"><circle cx="440.7" cy="275.3" r="2.2" fill="url(#gnd)"/>
<circle cx="484" cy="285.5" r="6.5" fill="url(#gpk)" stroke="#9c8ca4" stroke-opacity=".5" stroke-width=".6"/>
<circle cx="455" cy="296.5" r="6.00" fill="url(#gcd)" stroke="#7c7894" stroke-opacity=".55" stroke-width=".6"/>
<circle cx="456.1" cy="297.7" r="3.90" fill="#d8d4ea" fill-opacity=".8"/>
<circle cx="456.10" cy="297.70" r="3.2" fill="url(#gnd)"/>
<circle cx="485" cy="298.8" r="6.00" fill="url(#gcd)" stroke="#7c7894" stroke-opacity=".55" stroke-width=".6"/>
<circle cx="483.8" cy="300.6" r="3.90" fill="#d8d4ea" fill-opacity=".8"/>
<circle cx="483.80" cy="300.60" r="3.2" fill="url(#gnd)"/>
<circle cx="493" cy="306.3" r="7.50" fill="url(#gcd)" stroke="#7c7894" stroke-opacity=".55" stroke-width=".6"/>
<circle cx="495.4" cy="308.6" r="4.50" fill="#d8d4ea" fill-opacity=".8"/>
<circle cx="495.40" cy="308.60" r="3.8" fill="url(#gnd)"/>
<circle cx="449.2" cy="310.4" r="6.00" fill="url(#gcd)" stroke="#7c7894" stroke-opacity=".55" stroke-width=".6"/>
<circle cx="449.2" cy="310.4" r="3.90" fill="#d8d4ea" fill-opacity=".8"/>
<circle cx="449.20" cy="310.40" r="3.2" fill="url(#gnd)"/>
<circle cx="457.3" cy="309.8" r="5.50" fill="url(#gcd)" stroke="#7c7894" stroke-opacity=".55" stroke-width=".6"/>
<circle cx="457.3" cy="309.8" r="3.90" fill="#d8d4ea" fill-opacity=".8"/>
<circle cx="457.30" cy="309.80" r="3.2" fill="url(#gnd)"/>
<circle cx="464.8" cy="306.3" r="6.00" fill="url(#gcd)" stroke="#7c7894" stroke-opacity=".55" stroke-width=".6"/>
<circle cx="464.2" cy="308.1" r="3.90" fill="#d8d4ea" fill-opacity=".8"/>
<circle cx="464.20" cy="308.10" r="3.2" fill="url(#gnd)"/>
<circle cx="476" cy="310" r="6.00" fill="url(#gcd)" stroke="#7c7894" stroke-opacity=".55" stroke-width=".6"/>
<circle cx="474.6" cy="311" r="3.90" fill="#d8d4ea" fill-opacity=".8"/>
<circle cx="474.60" cy="311.00" r="3.2" fill="url(#gnd)"/>
<circle cx="452.1" cy="319" r="6.00" fill="url(#gcd)" stroke="#7c7894" stroke-opacity=".55" stroke-width=".6"/>
<circle cx="452.1" cy="319" r="4.20" fill="#d8d4ea" fill-opacity=".8"/>
<circle cx="452.10" cy="319.00" r="3.5" fill="url(#gnd)"/>
<circle cx="461.3" cy="319" r="6.00" fill="url(#gcd)" stroke="#7c7894" stroke-opacity=".55" stroke-width=".6"/>
<circle cx="461.3" cy="319" r="4.20" fill="#d8d4ea" fill-opacity=".8"/>
<circle cx="461.30" cy="319.00" r="3.5" fill="url(#gnd)"/>
<circle cx="474" cy="317.9" r="6.00" fill="url(#gcd)" stroke="#7c7894" stroke-opacity=".55" stroke-width=".6"/>
<circle cx="474" cy="317.9" r="4.20" fill="#d8d4ea" fill-opacity=".8"/>
<circle cx="474.00" cy="317.90" r="3.5" fill="url(#gnd)"/>
<circle cx="487.3" cy="316.7" r="6.50" fill="url(#gcd)" stroke="#7c7894" stroke-opacity=".55" stroke-width=".6"/>
<circle cx="485.0" cy="316.7" r="4.70" fill="#d8d4ea" fill-opacity=".8"/>
<circle cx="485.00" cy="316.70" r="4.0" fill="url(#gnd)"/>
<circle cx="509.3" cy="311.7" r="6.00" fill="url(#gcy)" stroke="#eeeaf6" stroke-opacity=".6" stroke-width=".6"/>
<circle cx="509.30" cy="311.70" r="4.5" fill="url(#gnv)"/>
<circle cx="514.9" cy="329.1" r="3" fill="url(#gnv)"/>
<circle cx="493.6" cy="328.3" r="6.5" fill="url(#gpa)" stroke="#8c88a0" stroke-opacity=".5" stroke-width=".6"/></g></g>
<path d="M497.5,340.4H510.2" stroke="#111" stroke-width="1.6"/>
<text x="477.6" y="360.8" font-size="8.8" text-anchor="middle" font-weight="normal" fill="#111" stroke="#111" stroke-width="0.22" >72h</text>
</svg></body></html>
